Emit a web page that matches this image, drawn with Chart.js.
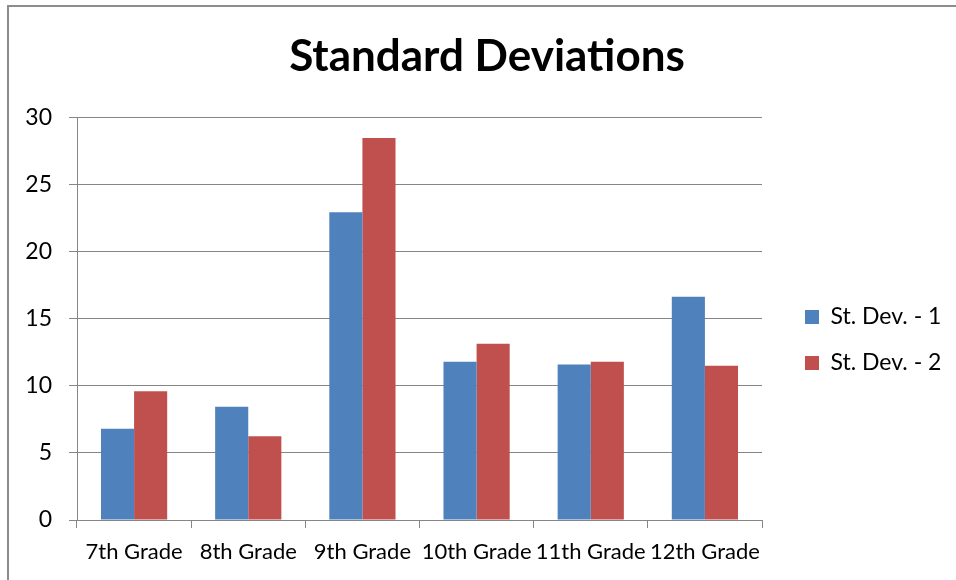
<!DOCTYPE html>
<html>
<head>
<meta charset="utf-8">
<script src="https://cdn.jsdelivr.net/npm/chart.js@4"></script>
<style>
  html, body { margin: 0; padding: 0; background: #fff; }
  #wrap  { position: relative; width: 956px; height: 580px; }
  #frame { position: absolute; left: 7px; top: 5px; right: 0; bottom: 0;
           border-top: 2px solid #8c8c8c; border-left: 2px solid #8c8c8c; }
  canvas { position: absolute; left: 0; top: 0; }
</style>
</head>
<body>
<div id="wrap">
  <div id="frame"></div>
  <canvas id="chart" width="956" height="580"></canvas>
</div>
<script>
const grades = ['7th Grade', '8th Grade', '9th Grade', '10th Grade', '11th Grade', '12th Grade'];
const stDev1 = [6.8, 8.45, 22.95, 11.8, 11.6, 16.65];
const stDev2 = [9.6, 6.25, 28.5, 13.15, 11.8, 11.5];
const seriesNames = ['St. Dev. - 1', 'St. Dev. - 2'];
const Y_MIN  = 0;
const Y_MAX  = 30;
const Y_STEP = 5;

const AXIS_GRAY = '#868686';

Chart.defaults.font.family = 'Lato, Carlito, "Open Sans", sans-serif';
Chart.defaults.color       = '#000';

// pin the legend box width so the plot area ends where the original does,
// then nudge the legend items right/down
const legendBox = {
  id: 'legendBox',
  beforeLayout(chart) {
    const lg = chart.legend;
    if (!lg || lg._pinned) return;
    const fit = lg.fit;
    lg.fit = function () { fit.call(this); this.width = 194; };
    lg._pinned = true;
  },
  afterLayout(chart) {
    chart.legend.left   += 20;
    chart.legend.top    += 50;
    chart.legend.bottom += 50;
  },
};

new Chart(document.getElementById('chart').getContext('2d'), {
  type: 'bar',
  data: {
    labels: grades,
    datasets: [
      { label: seriesNames[0], data: stDev1, backgroundColor: '#4f81bd' },
      { label: seriesNames[1], data: stDev2, backgroundColor: '#c0504d' },
    ],
  },
  options: {
    responsive: false,
    animation:  false,
    layout: { padding: { top: 0, left: 18, right: 0, bottom: 0 } },
    datasets: {
      bar: { categoryPercentage: 0.58, barPercentage: 1.0 },
    },
    plugins: {
      title: {
        display: true,
        text:    'Standard Deviations',
        color:   '#000',
        font:    { size: 44, weight: 'bold' },
        padding: { top: 30, bottom: 35 },
      },
      legend: {
        position: 'right',
        labels: {
          boxWidth:  14,
          boxHeight: 14,
          padding:   23,
          color:     '#000',
          font:      { size: 23 },
        },
      },
      tooltip: { enabled: false },
    },
    scales: {
      x: {
        grid: {
          offset:          true,
          drawOnChartArea: false,
          drawTicks:       true,
          tickLength:      8,
          color:           AXIS_GRAY,
        },
        border: { display: true, color: AXIS_GRAY },
        ticks: { font: { size: 22 }, padding: 11, maxRotation: 0, autoSkip: false },
        afterFit(scale) { scale.height = 60; },
      },
      y: {
        min: Y_MIN,
        max: Y_MAX,
        grid: { color: AXIS_GRAY, tickLength: 8 },
        border: { display: true, color: AXIS_GRAY },
        ticks: { stepSize: Y_STEP, font: { size: 23 }, padding: 17 },
        afterFit(scale) { scale.width = 59; },
      },
    },
  },
  plugins: [legendBox],
});
</script>
</body>
</html>
